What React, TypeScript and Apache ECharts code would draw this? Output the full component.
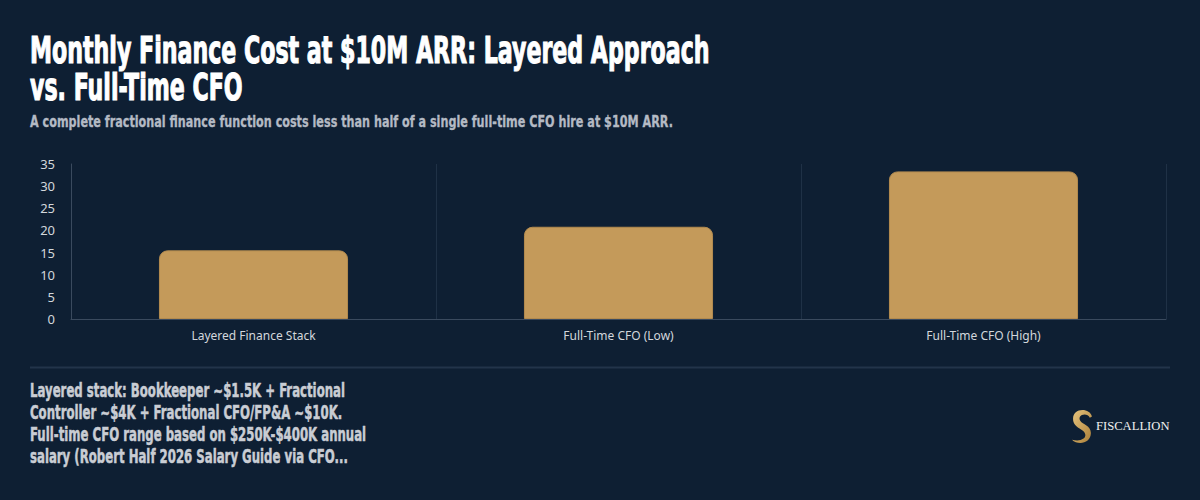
import React, { useEffect, useRef } from "react";
import * as echarts from "echarts";

const categories = ["Layered Finance Stack", "Full-Time CFO (Low)", "Full-Time CFO (High)"];
const monthlyCostK = [15.5, 20.83, 33.33];
const yTicks = { min: 0, max: 35, interval: 5 };

const titleLines = ["Monthly Finance Cost at $10M ARR: Layered Approach", "vs. Full-Time CFO"];
const subtitle = "A complete fractional finance function costs less than half of a single full-time CFO hire at $10M ARR.";
const footnoteLines = [
  "Layered stack: Bookkeeper ~$1.5K + Fractional",
  "Controller ~$4K + Fractional CFO/FP&A ~$10K.",
  "Full-time CFO range based on $250K-$400K annual",
  "salary (Robert Half 2026 Salary Guide via CFO...",
];
const brand = "FISCALLION";

const BG = "#0e1f33";
const GOLD = "#c49a5a";
const COND = "'Liberation Sans Narrow', 'DejaVu Sans Condensed', sans-serif";

const logoPath =
  "M10 0 C14 0 18 2 19 6 L17 7 C16 5 14 4 12 4 C8 4 6 7 8 10 C10 13 18 14 18 21 C18 27 13 30 8 30 C5 30 2 29 0 27 C4 28 8 28 11 26 C14 24 13 20 9 18 C4 15 1 13 1 8 C1 3 5 0 10 0 Z";

let registered = false;

export default function App() {
  const ref = useRef<HTMLDivElement>(null);
  useEffect(() => {
    document.body.style.margin = "0";
    document.body.style.background = BG;
    if (!registered) {
      echarts.graphic.registerShape("logo", echarts.graphic.extendPath(logoPath, {}));
      registered = true;
    }
    const chart = echarts.init(ref.current!, null, { renderer: "svg" });
    const textEl = (
      text: string,
      x: number,
      y: number,
      fontSize: number,
      fill: string,
      scaleX = 1,
      scaleY = 1,
      strokeW = 0,
      family = COND,
      weight: any = "bold"
    ) => ({
      type: "text",
      x,
      y,
      scaleX,
      scaleY,
      silent: true,
      style: {
        text,
        fill,
        stroke: strokeW ? fill : undefined,
        lineWidth: strokeW,
        fontSize,
        fontFamily: family,
        fontWeight: weight,
        align: "left",
        verticalAlign: "middle",
        textAlign: "left",
        textVerticalAlign: "middle",
      },
    });
    const graphics: any[] = [
      textEl(titleLines[0], 30, 49.5, 30, "#ffffff", 0.82, 1.25, 0.9),
      textEl(titleLines[1], 30, 87, 30, "#ffffff", 0.82, 1.25, 0.9),
      textEl(subtitle, 30, 121.5, 15, "#b4bac4", 0.83, 1.05, 0.3),
      {
        type: "line",
        silent: true,
        shape: { x1: 30, y1: 367.5, x2: 1170, y2: 367.5 },
        style: { stroke: "#22344a", lineWidth: 2 },
      },
      ...footnoteLines.map((t, i) => textEl(t, 30, 391 + i * 22, 15, "#c9cdd4", 0.87, 1.25, 0.4)),
      {
        type: "logo",
        x: 1072,
        y: 410,
        scaleX: 1.05,
        scaleY: 1.1,
        silent: true,
        style: {
          fill: new echarts.graphic.LinearGradient(0, 0, 1, 1, [
            { offset: 0, color: "#e6c47e" },
            { offset: 1, color: "#ab7f38" },
          ]),
        },
      },
      textEl(brand, 1096, 426, 13, "#f2f2f2", 0.97, 1, 0, "'Liberation Serif', 'DejaVu Serif', serif", "normal"),
    ];

    chart.setOption({
      animation: false,
      backgroundColor: BG,
      grid: { left: 71, right: 34, top: 164, bottom: 181 },
      xAxis: {
        type: "category",
        data: categories,
        axisLine: { show: true, lineStyle: { color: "#3a4a5e", width: 1 } },
        axisTick: { show: false },
        axisLabel: { color: "#d3d7dc", fontSize: 12, fontFamily: "'Noto Sans', sans-serif", margin: 10 },
        splitLine: { show: true, lineStyle: { color: "#1f3146", width: 1 } },
      },
      yAxis: {
        type: "value",
        min: yTicks.min,
        max: yTicks.max,
        interval: yTicks.interval,
        axisLine: { show: true, lineStyle: { color: "#3a4a5e", width: 1 } },
        axisTick: { show: false },
        axisLabel: { color: "#d3d7dc", fontSize: 13, fontFamily: "'Noto Sans', sans-serif", margin: 16 },
        splitLine: { show: false },
      },
      series: [
        {
          type: "bar",
          data: monthlyCostK,
          barWidth: "51.8%",
          itemStyle: { color: GOLD, borderRadius: [8, 8, 0, 0], borderColor: "#b38b4f", borderWidth: 1 },
        },
      ],
      graphic: graphics,
    });
    return () => chart.dispose();
  }, []);
  return <div ref={ref} style={{ width: 1200, height: 500 }} />;
}
